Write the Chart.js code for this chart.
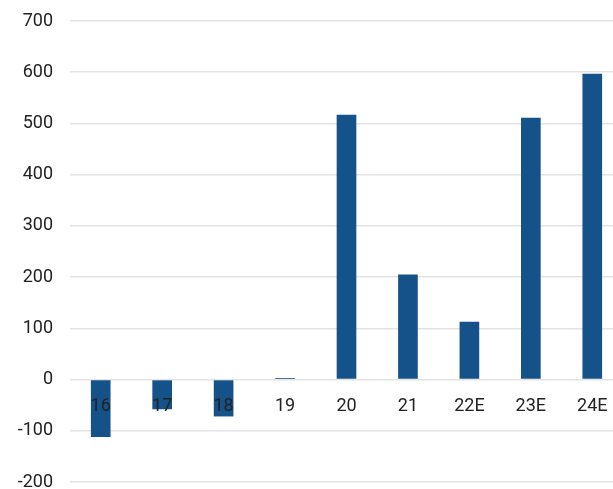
<!DOCTYPE html>
<html>
<head>
<meta charset="utf-8">
<script src="https://cdn.jsdelivr.net/npm/chart.js@4"></script>
<style>
    html, body { margin: 0; padding: 0; background: #fff; overflow: hidden; }
    #wrap { width: 623px; height: 489px; }
</style>
</head>
<body>
<div id="wrap"><canvas id="barChart"></canvas></div>
<script>
const years = ['16', '17', '18', '19', '20', '21', '22E', '23E', '24E'];
const values = [-112, -58, -72, 3, 517, 205, 113, 511, 597];
const yMin = -200;
const yMax = 700;

const ctx = document.getElementById('barChart').getContext('2d');

new Chart(ctx, {
    type: 'bar',
    data: {
        labels: years,
        datasets: [{
            data: values,
            backgroundColor: '#155289',
            barPercentage: 0.32,
            categoryPercentage: 1
        }]
    },
    options: {
        responsive: true,
        maintainAspectRatio: false,
        animation: false,
        layout: { padding: { top: 21, bottom: 7, left: 0, right: 0 } },
        plugins: {
            legend: { display: false },
            tooltip: { enabled: false }
        },
        scales: {
            x: {
                position: { y: 0 },
                grid: { display: false },
                border: { display: false },
                // labels sit on the zero line, so the axis takes no layout room
                afterFit: (scale) => { scale.height = 0; },
                ticks: {
                    z: 1,
                    color: '#222',
                    padding: 8,
                    font: { family: 'Roboto', size: 18 }
                }
            },
            y: {
                min: yMin,
                max: yMax,
                grid: { color: '#e3e3e3', lineWidth: 1.5, drawTicks: false },
                border: { display: false },
                afterFit: (scale) => {
                    scale.width = 70;
                    scale.paddingTop = 0;
                    scale.paddingBottom = 0;
                },
                ticks: {
                    stepSize: 100,
                    color: '#222',
                    padding: 17,
                    font: { family: 'Roboto', size: 18 }
                }
            }
        }
    }
});
</script>
</body>
</html>
